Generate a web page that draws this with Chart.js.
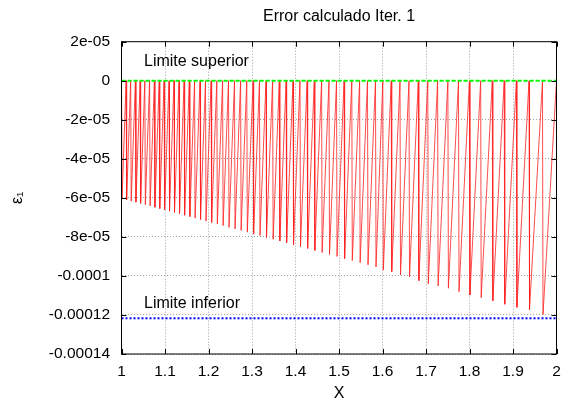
<!DOCTYPE html>
<html lang="es">
<head>
<meta charset="UTF-8" />
<title>Error calculado Iter. 1</title>
<script src="https://cdn.jsdelivr.net/npm/chart.js"></script>
<style>
  body { margin: 0; background: #fff; }
  #grafico { display: block; }
</style>
</head>
<body>
<canvas id="grafico" width="564" height="405"></canvas>
<script>
  // puntos donde el error vuelve a cero (inicio de cada diente)
  const cortes = [1.0000, 1.0106, 1.0211, 1.0320, 1.0428, 1.0536, 1.0646, 1.0756, 1.0867, 1.0979,
    1.1092, 1.1207, 1.1322, 1.1439, 1.1559, 1.1680, 1.1805, 1.1931, 1.2060, 1.2191,
    1.2324, 1.2460, 1.2598, 1.2738, 1.2880, 1.3025, 1.3172, 1.3322, 1.3474, 1.3628,
    1.3784, 1.3943, 1.4103, 1.4267, 1.4432, 1.4600, 1.4770, 1.4943, 1.5117, 1.5294,
    1.5474, 1.5655, 1.5839, 1.6007, 1.6200, 1.6402, 1.6609, 1.6823, 1.7041, 1.7267,
    1.7503, 1.7747, 1.7998, 1.8257, 1.8524, 1.8798, 1.9078, 1.9368, 1.9678, 2.0000];

  // valor minimo del error en cada diente
  const minimos = [-6.05e-5, -6.10e-5, -6.17e-5, -6.22e-5, -6.28e-5, -6.35e-5, -6.41e-5, -6.48e-5, -6.55e-5, -6.61e-5,
    -6.68e-5, -6.75e-5, -6.82e-5, -6.89e-5, -6.96e-5, -7.04e-5, -7.11e-5, -7.19e-5, -7.26e-5, -7.34e-5,
    -7.42e-5, -7.51e-5, -7.59e-5, -7.67e-5, -7.76e-5, -7.85e-5, -7.93e-5, -8.03e-5, -8.12e-5, -8.21e-5,
    -8.30e-5, -8.40e-5, -8.50e-5, -8.59e-5, -8.69e-5, -8.80e-5, -8.90e-5, -9.00e-5, -9.11e-5, -9.21e-5,
    -9.32e-5, -9.43e-5, -9.54e-5, -9.70e-5, -9.78e-5, -9.95e-5, -1.004e-4, -1.024e-4, -1.041e-4, -1.051e-4,
    -1.063e-4, -1.081e-4, -1.098e-4, -1.111e-4, -1.128e-4, -1.145e-4, -1.161e-4, -1.174e-4, -1.198e-4];

  const caida = 0.0012;           // ancho de la bajada de cada diente
  const limiteSuperior = 0;
  const limiteInferior = -1.217e-4;

  const xTicks = [1, 1.1, 1.2, 1.3, 1.4, 1.5, 1.6, 1.7, 1.8, 1.9, 2];
  const xEtiquetas = ['1', '1.1', '1.2', '1.3', '1.4', '1.5', '1.6', '1.7', '1.8', '1.9', '2'];
  const yTicks = [-1.4e-4, -1.2e-4, -1e-4, -8e-5, -6e-5, -4e-5, -2e-5, 0, 2e-5];
  const yEtiquetas = ['-0.00014', '-0.00012', '-0.0001', '-8e-05', '-6e-05', '-4e-05', '-2e-05', '0', '2e-05'];

  // serie en diente de sierra
  const error = [];
  for (let i = 0; i < minimos.length; i++) {
    error.push({ x: cortes[i], y: 0 });
    error.push({ x: cortes[i] + caida, y: minimos[i] });
  }
  error.push({ x: cortes[cortes.length - 1], y: 0 });

  Chart.defaults.font.family = '"Liberation Sans", Arial, sans-serif';
  Chart.defaults.color = '#000';

  // marco negro con marcas hacia dentro (estilo gnuplot) y textos de los limites
  const marco = {
    id: 'marco',
    afterDatasetsDraw(chart) {
      const { ctx, chartArea: a, scales: { x, y } } = chart;
      ctx.save();
      ctx.strokeStyle = '#000';
      ctx.lineWidth = 1;
      ctx.strokeRect(a.left, a.top, a.right - a.left, a.bottom - a.top);
      ctx.beginPath();
      xTicks.forEach(v => {
        const px = Math.round(x.getPixelForValue(v)) + 0.5;
        ctx.moveTo(px, a.bottom); ctx.lineTo(px, a.bottom - 5);
        ctx.moveTo(px, a.top); ctx.lineTo(px, a.top + 5);
      });
      yTicks.forEach(v => {
        const py = Math.round(y.getPixelForValue(v)) + 0.5;
        ctx.moveTo(a.left, py); ctx.lineTo(a.left + 5, py);
        ctx.moveTo(a.right, py); ctx.lineTo(a.right - 5, py);
      });
      ctx.stroke();

      ctx.fillStyle = '#000';
      ctx.font = '16px "Liberation Sans", Arial, sans-serif';
      ctx.textAlign = 'left';
      ctx.textBaseline = 'middle';
      ctx.fillText('Limite superior', x.getPixelForValue(1.0517), y.getPixelForValue(1.0e-5));
      ctx.fillText('Limite inferior', x.getPixelForValue(1.0517), y.getPixelForValue(-1.141e-4));
      ctx.restore();
    }
  };

  const gris = { color: '#a0a0a0', drawTicks: false };

  new Chart(document.getElementById('grafico'), {
    type: 'line',
    data: {
      datasets: [
        {
          data: [{ x: 1, y: limiteSuperior }, { x: 2, y: limiteSuperior }],
          borderColor: '#00ff00', borderWidth: 2, borderDash: [4, 2],
          pointRadius: 0, order: 0
        },
        {
          data: [{ x: 1, y: limiteInferior }, { x: 2, y: limiteInferior }],
          borderColor: '#0000ff', borderWidth: 2, borderDash: [2, 2],
          pointRadius: 0, order: 0
        },
        {
          data: error,
          borderColor: '#ff2020', borderWidth: 0.8,
          pointRadius: 0, tension: 0, order: 1
        }
      ]
    },
    options: {
      responsive: false,
      animation: false,
      layout: { padding: { left: 0, right: 7.5, top: 0, bottom: 0 } },
      plugins: {
        legend: { display: false },
        tooltip: { enabled: false },
        title: {
          display: true,
          fullSize: false,
          text: 'Error calculado Iter. 1',
          font: { size: 16, weight: 'normal' },
          padding: { top: 7.4, bottom: 15.1 }
        }
      },
      scales: {
        x: {
          type: 'linear', min: 1, max: 2,
          afterBuildTicks: s => { s.ticks = xTicks.map(v => ({ value: v })); },
          afterFit: s => { s.height = 51; s.paddingLeft = 0; s.paddingRight = 0; },
          ticks: { padding: 8.4, font: { size: 15.5 }, maxRotation: 0, callback: (v, i) => xEtiquetas[i] },
          grid: gris,
          border: { display: false, dash: [1, 2] },
          title: { display: true, text: 'X', font: { size: 16 }, padding: { top: 0, bottom: 1.4 } }
        },
        y: {
          type: 'linear', min: -1.4e-4, max: 2e-5,
          afterBuildTicks: s => { s.ticks = yTicks.map(v => ({ value: v })); },
          afterFit: s => { s.width = 121.5; s.paddingTop = 0; s.paddingBottom = 0; },
          ticks: { padding: 11.5, font: { size: 15.5 }, callback: (v, i) => yEtiquetas[i] },
          grid: gris,
          border: { display: false, dash: [1, 2] },
          title: { display: true, text: 'ε₁', font: { size: 16 }, padding: { top: 8.4, bottom: 0 } }
        }
      }
    },
    plugins: [marco]
  });
</script>
</body>
</html>
